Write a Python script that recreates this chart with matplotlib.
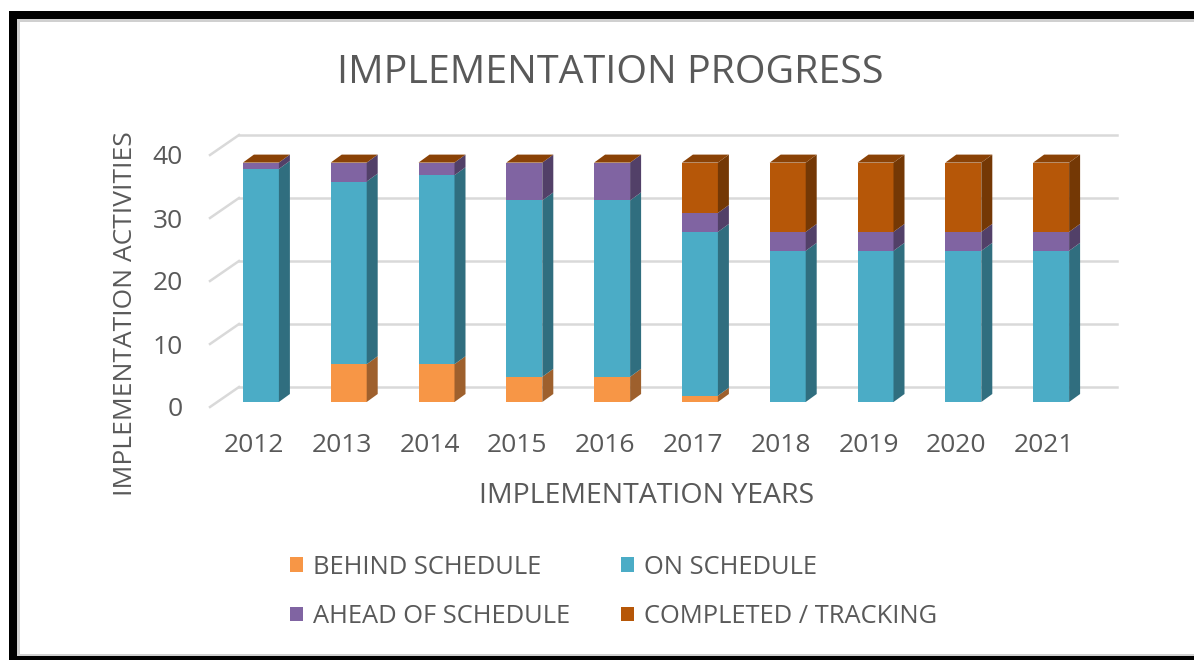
import matplotlib
matplotlib.use("Agg")
import matplotlib.pyplot as plt
from matplotlib.patches import Polygon, Rectangle, Patch
import numpy as np

plt.rcParams['font.family'] = ['Open Sans', 'DejaVu Sans']

years = ["2012", "2013", "2014", "2015", "2016", "2017", "2018", "2019", "2020", "2021"]
behind = [0, 6, 6, 4, 4, 1, 0, 0, 0, 0]
on_sched = [37, 29, 30, 28, 28, 26, 24, 24, 24, 24]
ahead = [1, 3, 2, 6, 6, 3, 3, 3, 3, 3]
completed = [0, 0, 0, 0, 0, 8, 11, 11, 11, 11]
series_names = ["BEHIND SCHEDULE", "ON SCHEDULE", "AHEAD OF SCHEDULE", "COMPLETED / TRACKING"]
yticks = [0, 10, 20, 30, 40]

colors = ["#F79646", "#4BACC6", "#8064A2", "#B65708"]
text_color = "#595959"

W, H = 1194, 660
fig = plt.figure(figsize=(W / 100, H / 100), dpi=100)
fig.patch.set_facecolor("white")

# axes: x from -0.5..9.5 at px 210..1088, y 0..40 at px 407..155
ax = fig.add_axes([210 / W, (H - 407) / H, 878 / W, 252 / H])
ax.set_xlim(-0.5, 9.5)
ax.set_ylim(0, 40)
ax.axis("off")

pxx = 878 / 10.0
pxy = 252 / 40.0
def dx(p):
    return p / pxx
def dy(p):
    return p / pxy

fdx, fdy = dx(29), dy(20)      # floor depth
bdx, bdy = dx(7), dy(5)        # bar front plane
sdx, sdy = dx(11), dy(8)       # bar depth
bw = 36 / pxx

grid_c = "#D9D9D9"
x0, x1 = -0.5, 9.5
for v in yticks:
    ax.plot([x0 + fdx, x1 + fdx], [v + fdy, v + fdy], color=grid_c, lw=1.8, clip_on=False, zorder=1)
    ax.plot([x0, x0 + fdx], [v, v + fdy], color=grid_c, lw=1.8, clip_on=False, zorder=1)
    ax.text(x0 - dx(27), v, str(v), ha="right", va="center_baseline", fontsize=19, color=text_color)

def shade(c, f):
    r, g, b = matplotlib.colors.to_rgb(c)
    return (r * f, g * f, b * f)

data = [behind, on_sched, ahead, completed]
xs = np.arange(len(years))
for i in xs:
    bottom = 0
    for s, vals in enumerate(data):
        h = vals[i]
        if h > 0:
            ax.bar(i + bdx, h, bottom=bottom + bdy, width=bw, color=colors[s],
                   linewidth=0, zorder=3, clip_on=False)
            xr = i + bdx + bw / 2
            side = Polygon([(xr, bottom + bdy), (xr + sdx, bottom + bdy + sdy),
                            (xr + sdx, bottom + h + bdy + sdy), (xr, bottom + h + bdy)],
                           closed=True, facecolor=shade(colors[s], 0.64), edgecolor="none",
                           zorder=3, clip_on=False)
            ax.add_patch(side)
        bottom += h
    xl = i + bdx - bw / 2
    xr = i + bdx + bw / 2
    top = Polygon([(xl, bottom + bdy), (xr, bottom + bdy), (xr + sdx, bottom + bdy + sdy),
                   (xl + sdx, bottom + bdy + sdy)], closed=True,
                  facecolor=shade(colors[3], 0.76), edgecolor="none", zorder=4, clip_on=False)
    ax.add_patch(top)
    ax.text(i, -dy(45), years[i], ha="center", va="baseline", fontsize=19, color=text_color)

fig.text(647 / W, 1 - 503 / H, "IMPLEMENTATION YEARS", ha="center", va="baseline",
         fontsize=20.5, color=text_color)
fig.text(126 / W, 1 - 314 / H, "IMPLEMENTATION ACTIVITIES", ha="center", va="center",
         rotation=90, fontsize=19, color=text_color)
fig.text(610 / W, 1 - 83 / H, "IMPLEMENTATION PROGRESS", ha="center", va="baseline",
         fontsize=28.4, color=text_color)

handles = [Patch(facecolor=colors[0]), Patch(facecolor=colors[2]),
           Patch(facecolor=colors[1]), Patch(facecolor=colors[3])]
labels = [series_names[0], series_names[2], series_names[1], series_names[3]]
fig.legend(handles, labels, ncol=2, loc="center left", bbox_to_anchor=(290 / W, 1 - 592 / H),
           frameon=False, fontsize=18.4, labelcolor=text_color, handlelength=0.51,
           handleheight=0.51, handletextpad=0.39, columnspacing=2.0, labelspacing=0.95,
           borderpad=0, borderaxespad=0)

# frame
fig.patches.append(Rectangle((9 / W, 0), 8 / W, 1 - 11 / H, transform=fig.transFigure,
                             facecolor="black", edgecolor="none"))
fig.patches.append(Rectangle((9 / W, 1 - 19 / H), 1 - 9 / W, 8 / H, transform=fig.transFigure,
                             facecolor="black", edgecolor="none"))
fig.patches.append(Rectangle((9 / W, 0), 1 - 9 / W, 4 / H, transform=fig.transFigure,
                             facecolor="black", edgecolor="none"))
fig.patches.append(Rectangle((17 / W, 1 - 22 / H), 1 - 17 / W, 3 / H, transform=fig.transFigure,
                             facecolor="#D0D0D0", edgecolor="none"))
fig.patches.append(Rectangle((17 / W, 4 / H), 3 / W, 1 - 26 / H, transform=fig.transFigure,
                             facecolor="#D0D0D0", edgecolor="none"))
fig.patches.append(Rectangle((17 / W, 4 / H), 1 - 17 / W, 2 / H, transform=fig.transFigure,
                             facecolor="#D0D0D0", edgecolor="none"))

fig.savefig("out.png", dpi=100, facecolor="white")
